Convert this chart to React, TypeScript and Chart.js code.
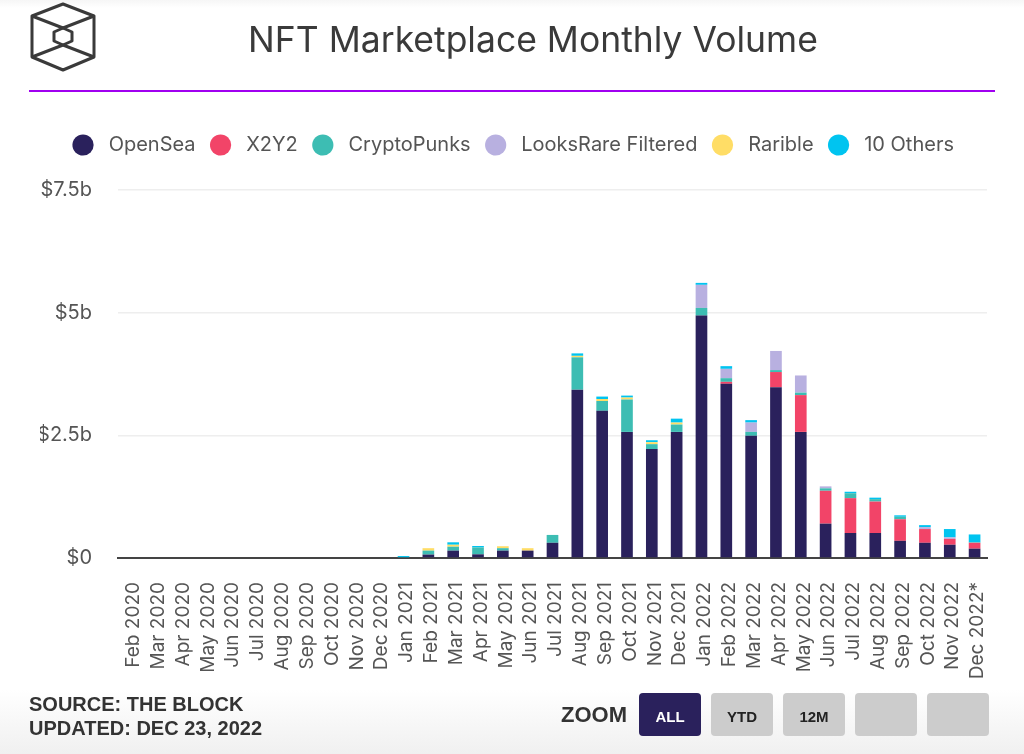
import { useEffect, useRef } from 'react';
import Chart from 'chart.js/auto';

const months = [
  'Feb 2020', 'Mar 2020', 'Apr 2020', 'May 2020', 'Jun 2020', 'Jul 2020', 'Aug 2020', 'Sep 2020', 'Oct 2020', 'Nov 2020', 'Dec 2020',
  'Jan 2021', 'Feb 2021', 'Mar 2021', 'Apr 2021', 'May 2021', 'Jun 2021', 'Jul 2021', 'Aug 2021', 'Sep 2021', 'Oct 2021', 'Nov 2021', 'Dec 2021',
  'Jan 2022', 'Feb 2022', 'Mar 2022', 'Apr 2022', 'May 2022', 'Jun 2022', 'Jul 2022', 'Aug 2022', 'Sep 2022', 'Oct 2022', 'Nov 2022', 'Dec 2022*',
];

// values in $ billions
const openSea = [0, 0, 0, 0, 0, 0, 0, 0, 0, 0, 0, 0, 0.07, 0.15, 0.075, 0.15, 0.15, 0.31, 3.43, 3.0, 2.57, 2.22, 2.57, 4.94, 3.55, 2.49, 3.48, 2.57, 0.7, 0.51, 0.51, 0.35, 0.31, 0.27, 0.19];
const x2y2 = [0, 0, 0, 0, 0, 0, 0, 0, 0, 0, 0, 0, 0, 0, 0, 0, 0, 0, 0, 0, 0, 0, 0, 0, 0.04, 0, 0.31, 0.75, 0.67, 0.71, 0.64, 0.44, 0.28, 0.12, 0.12];
const cryptoPunks = [0, 0, 0, 0, 0, 0, 0, 0, 0, 0, 0, 0, 0.08, 0.08, 0.14, 0.05, 0, 0.16, 0.66, 0.2, 0.66, 0.1, 0.15, 0.157, 0.075, 0.08, 0.04, 0.05, 0.05, 0.1, 0.05, 0.05, 0, 0, 0.01];
const looksRare = [0, 0, 0, 0, 0, 0, 0, 0, 0, 0, 0, 0, 0, 0, 0, 0, 0, 0, 0, 0, 0, 0, 0, 0.47, 0.19, 0.19, 0.39, 0.35, 0.04, 0, 0, 0, 0.04, 0.03, 0];
const rarible = [0, 0, 0, 0, 0, 0, 0, 0, 0, 0, 0, 0, 0.05, 0.04, 0, 0.04, 0.05, 0, 0.03, 0.04, 0.04, 0.04, 0.04, 0, 0, 0, 0, 0, 0, 0, 0, 0, 0, 0, 0];
const others = [0, 0, 0, 0, 0, 0, 0, 0, 0, 0, 0, 0.04, 0, 0.05, 0.03, 0, 0, 0, 0.05, 0.05, 0.04, 0.04, 0.08, 0.04, 0.055, 0.05, 0, 0, 0, 0.03, 0.03, 0.03, 0.04, 0.17, 0.16];

const yTickLabels: Record<number, string> = { 0: '$0', 2.5: '$2.5b', 5: '$5b', 7.5: '$7.5b' };
const zoomButtons = ['ALL', 'YTD', '12M', '', ''];

const FONT = 'Inter, "Noto Sans", sans-serif';
const FOOT_FONT = '"Liberation Sans", Arial, sans-serif';
const GREY = '#555555';

const series = [
  { label: 'OpenSea', data: openSea, color: '#2A215C' },
  { label: 'X2Y2', data: x2y2, color: '#F24468' },
  { label: 'CryptoPunks', data: cryptoPunks, color: '#3DBDB3' },
  { label: 'LooksRare Filtered', data: looksRare, color: '#B8B0E0' },
  { label: 'Rarible', data: rarible, color: '#FFDD66' },
  { label: '10 Others', data: others, color: '#00C4F0' },
];

// extra room between the legend and the plot
const legendGap = {
  id: 'legendGap',
  beforeInit(chart: any) {
    const fit = chart.legend.fit;
    chart.legend.fit = function () {
      fit.bind(chart.legend)();
      this.height += 25;
    };
  },
};

const App = () => {
  const chartRef = useRef<HTMLCanvasElement>(null);

  useEffect(() => {
    document.body.style.margin = '0';
    let chart: Chart | undefined;
    if (chartRef.current) {
      chart = new Chart(chartRef.current, {
        type: 'bar',
        data: {
          labels: months,
          datasets: series.map((s) => ({
            label: s.label,
            data: s.data,
            backgroundColor: s.color,
            stack: 'volume',
            barPercentage: 0.47,
            categoryPercentage: 1,
          })),
        },
        plugins: [legendGap],
        options: {
          responsive: false,
          animation: false,
          layout: { padding: { left: 40, right: 37, top: 120, bottom: 64 } },
          plugins: {
            legend: {
              position: 'top',
              labels: {
                color: GREY,
                font: { family: FONT, size: 20 },
                usePointStyle: true,
                pointStyle: 'circle',
                boxWidth: 20,
                boxHeight: 15,
                padding: 15,
                // leading space pushes the text a little off the dot
                generateLabels: (c) =>
                  Chart.defaults.plugins.legend.labels.generateLabels(c).map((item) => ({
                    ...item,
                    text: ' ' + item.text,
                  })),
              },
            },
            tooltip: { enabled: false },
          },
          scales: {
            x: {
              stacked: true,
              afterFit: (scale) => {
                scale.height = 132;
              },
              grid: { display: false },
              border: { color: '#444444', width: 2 },
              ticks: {
                color: GREY,
                font: { family: FONT, size: 19 },
                autoSkip: false,
                minRotation: 90,
                maxRotation: 90,
                padding: 16,
                labelOffset: 3,
              },
            },
            y: {
              stacked: true,
              min: 0,
              max: 7.5,
              afterFit: (scale) => {
                scale.width = 78;
              },
              grid: { color: '#EEEEEE', lineWidth: 1.5, drawTicks: false },
              border: { display: false },
              ticks: {
                stepSize: 2.5,
                color: GREY,
                font: { family: FONT, size: 20 },
                padding: 26,
                callback: (value) => yTickLabels[Number(value)],
              },
            },
          },
        },
      });
    }
    return () => {
      chart?.destroy();
    };
  }, []);

  return (
    <div
      style={{
        position: 'relative',
        width: 1024,
        height: 754,
        overflow: 'hidden',
        background: 'linear-gradient(#f6f6f6 0, #ffffff 8px, #ffffff 690px, #f0f0f0 754px)',
      }}
    >
      <canvas ref={chartRef} width={1024} height={754} style={{ position: 'absolute', left: 0, top: 0 }} />
      <svg width={100} height={76} style={{ position: 'absolute', left: 0, top: 0 }} fill="none" stroke="#3A3A3A" strokeWidth={3} strokeLinejoin="round">
        <polygon points="63,4 94,16 94,57 63,70 32,57 32,16" />
        <polygon points="63,28 72,32 72,41 63,45 54,41 54,32" />
        <path d="M32,16 L63,28 L94,16 M32,57 L63,45 L94,57" />
      </svg>
      <div
        style={{
          position: 'absolute',
          left: 133,
          width: 800,
          top: 18,
          textAlign: 'center',
          fontFamily: FONT,
          fontSize: 35.5,
          lineHeight: '43px',
          color: '#3A3A3A',
        }}
      >
        NFT Marketplace Monthly Volume
      </div>
      <div style={{ position: 'absolute', left: 29, top: 90, width: 966, height: 2, background: '#A000F0' }} />
      <div
        style={{
          position: 'absolute',
          left: 29,
          top: 692,
          fontFamily: FOOT_FONT,
          fontWeight: 'bold',
          fontSize: 20,
          lineHeight: '24px',
          color: '#333333',
        }}
      >
        SOURCE: THE BLOCK
        <br />
        UPDATED: DEC 23, 2022
      </div>
      <div
        style={{
          position: 'absolute',
          left: 561,
          top: 703,
          fontFamily: FOOT_FONT,
          fontWeight: 'bold',
          fontSize: 22,
          lineHeight: '24px',
          color: '#333333',
        }}
      >
        ZOOM
      </div>
      <div style={{ position: 'absolute', left: 639, top: 693, display: 'flex', gap: 10 }}>
        {zoomButtons.map((b, i) => (
          <div
            key={i}
            style={{
              width: 62,
              height: 43,
              borderRadius: 4,
              background: i === 0 ? '#2A215C' : '#CCCCCC',
              color: i === 0 ? '#FFFFFF' : '#222222',
              fontFamily: FOOT_FONT,
              fontWeight: 'bold',
              fontSize: 15,
              lineHeight: '47px',
              textAlign: 'center',
            }}
          >
            {b}
          </div>
        ))}
      </div>
    </div>
  );
};

export default App;
